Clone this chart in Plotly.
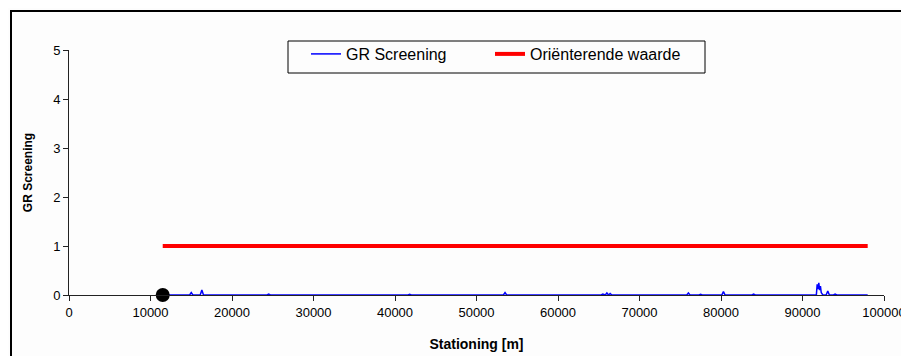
import plotly.graph_objects as go

# Data
station = [11500, 14800, 15000, 15200, 16100, 16300, 16500, 24300, 24500, 24700,
           41600, 41800, 42000, 53300, 53500, 53700, 65300, 65500, 65800, 66000,
           66200, 66400, 66600, 75800, 76000, 76200, 77300, 77500, 77700, 80100,
           80300, 80500, 83800, 84000, 84200, 87800, 88000, 88200, 89800, 90000,
           90200, 91700, 91800, 91900, 92000, 92100, 92200, 92300, 92500, 92900,
           93100, 93300, 93800, 94000, 94200, 98000]
gr_values = [0, 0, 0.05, 0, 0, 0.1, 0, 0, 0.02, 0,
             0, 0.015, 0, 0, 0.05, 0, 0, 0.02, 0, 0.04,
             0, 0.03, 0, 0, 0.04, 0, 0, 0.015, 0, 0,
             0.07, 0, 0, 0.02, 0, 0, 0.01, 0, 0, 0.015,
             0, 0, 0.22, 0.12, 0.25, 0.1, 0.18, 0.05, 0, 0,
             0.08, 0, 0, 0.02, 0, 0]
ref_x = [11500, 98000]
ref_y = [1, 1]
start_x = [11500]
start_y = [0]
x_ticks = [0, 10000, 20000, 30000, 40000, 50000, 60000, 70000, 80000, 90000, 100000]
y_ticks = [0, 1, 2, 3, 4, 5]

fig = go.Figure()
fig.add_trace(go.Scatter(x=station, y=gr_values, mode="lines", name="GR Screening",
                         line=dict(color="#0000ff", width=1.5), legend="legend"))
fig.add_trace(go.Scatter(x=ref_x, y=ref_y, mode="lines", name="Oriënterende waarde",
                         line=dict(color="#ff0000", width=4), legend="legend2"))
fig.add_trace(go.Scatter(x=start_x, y=start_y, mode="markers", showlegend=False,
                         marker=dict(color="black", size=14), cliponaxis=False))

# page body has an 8px margin; figure coordinates = screen - 8
L, R, T, B = 61, 33, 42, 69
W, H = 909, 356
pw, ph = W - L - R, H - T - B

def px(xp):
    return (xp - L) / pw

def py(yp):
    return (H - B - yp) / ph

# outer chart border
fig.add_shape(type="rect", xref="paper", yref="paper",
              x0=px(3), x1=px(930), y0=py(380), y1=py(3),
              line=dict(color="black", width=2), fillcolor="rgba(0,0,0,0)", layer="below")
# legend box
fig.add_shape(type="rect", xref="paper", yref="paper",
              x0=px(280), x1=px(697), y0=py(65), y1=py(33),
              line=dict(color="black", width=1), fillcolor="rgba(0,0,0,0)", layer="above")

leg_common = dict(orientation="h", xanchor="left", yanchor="top", borderwidth=0,
                  bgcolor="rgba(0,0,0,0)", font=dict(size=16))

fig.update_layout(
    width=W, height=H,
    margin=dict(l=L, r=R, t=T, b=B),
    paper_bgcolor="#fdfdfd", plot_bgcolor="#fdfdfd",
    font=dict(family="Liberation Sans, Arial, sans-serif", size=13, color="black"),
    showlegend=True,
    legend=dict(x=px(298), y=py(29), **leg_common),
    legend2=dict(x=px(482), y=py(29), **leg_common),
    xaxis=dict(range=[0, 100000], tickvals=x_ticks, ticktext=[str(v) for v in x_ticks],
               showgrid=False, zeroline=False, showline=True, linecolor="#222222",
               linewidth=1, ticks="outside", ticklen=5, tickcolor="#222222",
               tickfont=dict(size=13),
               title=dict(text="<b>Stationing [m]</b>", standoff=20, font=dict(size=14))),
    yaxis=dict(range=[0, 5], tickvals=y_ticks, showgrid=False, zeroline=False,
               showline=True, linecolor="#222222", linewidth=1, ticks="outside",
               ticklen=5, tickcolor="#222222", tickfont=dict(size=13),
               title=dict(text="<b>GR Screening</b>", standoff=17, font=dict(size=12))),
)

fig.write_html("out.html")
